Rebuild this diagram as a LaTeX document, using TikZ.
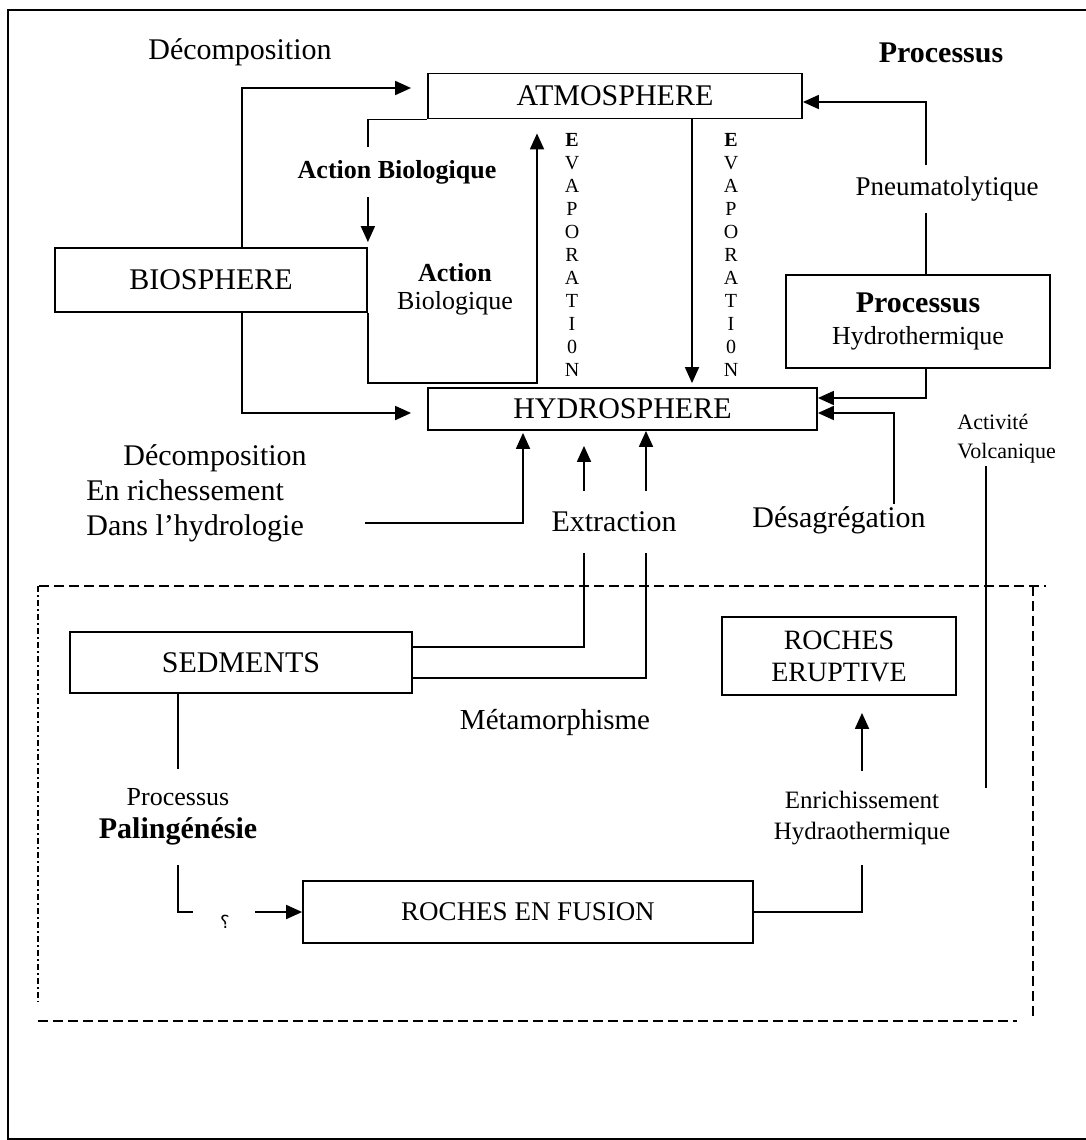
\documentclass[tikz,border=0pt]{standalone}
\usepackage{fontspec}
\setmainfont{Liberation Serif}
\newfontfamily\arabicfont[Script=Arabic]{DejaVu Sans}
\TeXXeTstate=1
\usetikzlibrary{arrows.meta, positioning, calc}
\tikzset{
  boite/.style={draw, line width=0.9pt, inner sep=0pt, align=center,
                font=\fontsize{15}{16}\selectfont},
  etiq/.style={inner sep=1pt, align=center, font=\fontsize{15}{17}\selectfont},
  petite/.style={inner sep=1pt, align=center, font=\fontsize{13}{14}\selectfont},
  evap/.style={inner sep=0pt, align=center, font=\fontsize{10}{11.5}\selectfont},
  lien/.style={line width=0.9pt},
  fleche/.style={line width=0.9pt, -{Triangle[length=8pt, width=7pt]}},
  tirets/.style={line width=0.7pt, dash pattern=on 5pt off 2.5pt},
}

\begin{document}
\begin{tikzpicture}[x=0.5pt, y=-0.5pt]
\useasboundingbox (0,0) rectangle (1086,1140);
\draw[line width=0.8pt] (1086,10) -- (8,10) -- (8,1139) -- (1086,1139);

% boites
\node[boite, minimum width=187pt, minimum height=22.5pt] (atmo) at (615,96) {ATMOSPHERE};
\node[boite, minimum width=156pt, minimum height=32pt] (bio) at (211,280) {BIOSPHERE};
\node[boite, minimum width=194.5pt, minimum height=21pt] (hydro) at (622.5,409) {HYDROSPHERE};
\node[boite, minimum width=132pt, minimum height=46.5pt] (hydrot) at (918,321.5)
  {\textbf{Processus}\\{\fontsize{13}{16}\selectfont Hydrothermique}};
\node[boite, minimum width=171pt, minimum height=30.5pt] (sed) at (241,662.5) {SEDMENTS};
\node[boite, minimum width=117pt, minimum height=39pt, font=\fontsize{14}{16}\selectfont]
  (erupt) at (839,656) {ROCHES\\ERUPTIVE};
\node[boite, minimum width=225pt, minimum height=31pt, font=\fontsize{13.5}{16}\selectfont]
  (fusion) at (528,912) {ROCHES EN FUSION};

% textes
\node[etiq] (dec1) at (240,52) {Décomposition};
\node[etiq, font=\bfseries\fontsize{15}{17}\selectfont] (proc1) at (941,53) {Processus};
\node[petite, font=\bfseries\fontsize{13}{14}\selectfont, minimum height=24.5pt] (abio) at (397,172) {Action Biologique};
\node[petite, font=\fontsize{13}{14}\selectfont] (abio2) at (455,289) {\textbf{Action}\\Biologique};
\node[petite, font=\fontsize{13.5}{15}\selectfont, minimum height=24pt] (pneu) at (947,189) {Pneumatolytique};
\node[evap] (evap1) at (572,255) {\textbf{E}\\V\\A\\P\\O\\R\\A\\T\\I\\0\\N};
\node[evap] (evap2) at (731,255) {\textbf{E}\\V\\A\\P\\O\\R\\A\\T\\I\\0\\N};
\node[etiq, align=left, anchor=west, inner sep=0pt, font=\fontsize{15}{17.5}\selectfont] (dec2) at (86,493)
  {\hspace*{18.5pt}Décomposition\\En richessement\\Dans l’hydrologie};
\node[etiq, minimum height=30.5pt] (extr) at (614,522) {Extraction};
\node[etiq] (desag) at (839,520) {Désagrégation};
\node[petite, font=\fontsize{11}{14.5}\selectfont, align=left, anchor=south west] (volc) at (955,466) {Activité\\Volcanique};
\node[etiq, font=\fontsize{14.5}{17}\selectfont] (meta) at (555,722) {Métamorphisme};
\node[etiq, font=\fontsize{15}{16.5}\selectfont, minimum height=47.5pt] (palin) at (178,817)
  {{\fontsize{13}{16.5}\selectfont Processus}\\\textbf{Palingénésie}};
\node[inner sep=0pt, font=\arabicfont\fontsize{9}{10}\selectfont] (qm) at (225,922) {\beginR ؟\endR};
\node[petite, font=\fontsize{12.5}{15.5}\selectfont, minimum height=46.5pt] (enr) at (862,818)
  {Enrichissement\\Hydraothermique};

% liens du haut
\coordinate (xpn) at (926,0);
\draw[lien] (hydrot.north -| xpn) -- (pneu.south -| xpn);
\draw[fleche] (pneu.north -| xpn) |- ($(atmo.east)+(0,6)$);
\draw[fleche] ($(bio.north)+(31,0)$) |- ($(atmo.west)+(-16,-8)$);
\draw[lien] (atmo.south west) -| (abio.north -| bio.east);
\draw[fleche] (abio.south -| bio.east) -- ($(bio.north east)+(0,-5)$);
\coordinate (lp) at (537,383);
\draw[fleche] (bio.south east) |- (lp) -- ($(atmo.south -| lp)+(0,14)$);
\draw[fleche] ($(atmo.south)+(77,0)$) -- ($(hydro.north)+(69.5,-4)$);
\draw[fleche] ($(bio.south)+(31,0)$) |- ($(hydro.west)+(-16,4)$);
\draw[fleche] ($(hydrot.south)+(8,0)$) |- ($(hydro.east)+(0,-11)$);

% liens autour de l'hydrosphere
\coordinate (dsrc) at (365,523);
\draw[fleche] (dsrc) -| ($(hydro.south)+(-99.5,2)$);
\coordinate (xa) at (584,0);
\coordinate (xb) at (646,0);
\draw[fleche] (extr.north -| xa) -- ($(hydro.south -| xa)+(0,15)$);
\draw[fleche] (extr.north -| xb) -- (hydro.south -| xb);
\draw[lien] (extr.south -| xa) |- ($(sed.east)+(0,-15.5)$);
\draw[lien] (extr.south -| xb) |- ($(sed.east)+(0,15.5)$);
\coordinate (xd) at (894,0);
\draw[fleche] (desag.north -| xd) |- ($(hydro.east)+(0,4)$);
\coordinate (vend) at (986,788);
\draw[lien] (volc.south -| vend) -- (vend);

% liens du bas
\draw[lien] (sed.south -| palin.north) -- (palin.north);
\draw[lien] (palin.south) |- ($(fusion.west)+(-109,0)$);
\draw[fleche] ($(fusion.west)+(-47,0)$) -- (fusion.west);
\draw[lien] (fusion.east) -| (enr.south);
\draw[fleche] (enr.north) -- ($(erupt.south)+(23,17)$);

% cadre en tirets
\draw[tirets] (39,586) -- (1046,586);
\draw[tirets, dash pattern=on 3pt off 1.5pt on 1pt off 1.5pt] (38,586) -- (38,1002);
\draw[tirets] (1033,586) -- (1033,1018);
\draw[tirets, line width=1pt] (38,1021) -- (1017,1021);
\end{tikzpicture}
\end{document}
